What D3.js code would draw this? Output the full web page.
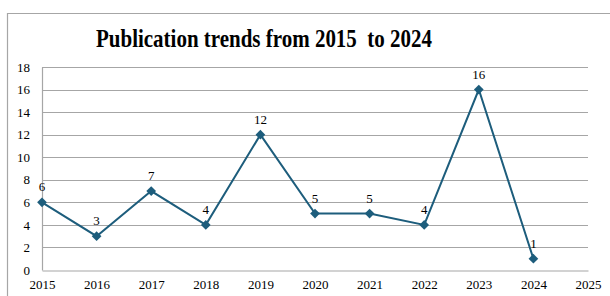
<!DOCTYPE html>
<html>
<head>
<meta charset="utf-8">
<script src="https://cdn.jsdelivr.net/npm/d3@7"></script>
<style>
  html, body { margin: 0; padding: 0; background: #fff; }
  svg { display: block; }
  svg text { font-family: "Liberation Serif", "Times New Roman", Times, serif !important; fill: #000; white-space: pre; }
</style>
</head>
<body>
<svg id="chart" width="610" height="296"></svg>
<script>
const titleText = "Publication trends from 2015  to 2024";
const years = [2015, 2016, 2017, 2018, 2019, 2020, 2021, 2022, 2023, 2024];
const publications = [6, 3, 7, 4, 12, 5, 5, 4, 16, 1];
const xTicks = [2015, 2016, 2017, 2018, 2019, 2020, 2021, 2022, 2023, 2024, 2025];
const yTicks = [0, 2, 4, 6, 8, 10, 12, 14, 16, 18];

const svg = d3.select("#chart");
const color = "#1d5d7c";

// chart frame (extends past right/bottom edges)
svg.append("path")
  .attr("d", "M7.5,300 V13.5 H615")
  .attr("fill", "none")
  .attr("stroke", "#a6a6a6")
  .attr("stroke-width", 1.2);

svg.append("text")
  .attr("x", 264).attr("y", 47)
  .attr("text-anchor", "middle")
  .attr("font-size", 25)
  .attr("font-weight", "bold")
  .attr("xml:space", "preserve")
  .attr("textLength", 336)
  .attr("lengthAdjust", "spacingAndGlyphs")
  .text(titleText);

const x = d3.scaleLinear().domain([2015, 2025]).range([42, 588]);
const y = d3.scaleLinear().domain([0, 18]).range([270, 67]);

// gridlines
svg.append("g")
  .selectAll("line")
  .data(yTicks.filter(d => d > 0))
  .join("line")
  .attr("x1", x(2015)).attr("x2", x(2025))
  .attr("y1", d => Math.round(y(d)) + 0.5).attr("y2", d => Math.round(y(d)) + 0.5)
  .attr("stroke", "#a6a6a6").attr("stroke-width", 1);

// y axis
const yAxis = svg.append("g")
  .attr("transform", `translate(${x(2015)},0)`)
  .call(d3.axisLeft(y).tickValues(yTicks).tickSize(0).tickPadding(12).tickFormat(d3.format("d")));
yAxis.attr("font-family", null);
yAxis.select(".domain").attr("stroke", "#a6a6a6").attr("stroke-width", 1.2);
yAxis.selectAll("text").attr("font-size", 13).attr("fill", "#000");

// x axis
const xAxis = svg.append("g")
  .attr("transform", `translate(0,${Math.round(y(0)) + 0.5})`)
  .call(d3.axisBottom(x).tickValues(xTicks).tickSize(0).tickPadding(9).tickFormat(d3.format("d")));
xAxis.attr("font-family", null);
xAxis.select(".domain").attr("stroke", "#a6a6a6").attr("stroke-width", 1.2);
xAxis.selectAll("text").attr("font-size", 13).attr("fill", "#000");

const data = years.map((yr, i) => ({ yr, v: publications[i] }));

svg.append("path")
  .datum(data)
  .attr("fill", "none")
  .attr("stroke", color)
  .attr("stroke-width", 2)
  .attr("d", d3.line().x(d => x(d.yr)).y(d => y(d.v)));

svg.append("g")
  .selectAll("path")
  .data(data)
  .join("path")
  .attr("transform", d => `translate(${x(d.yr)},${y(d.v)})`)
  .attr("d", d3.symbol().type(d3.symbolDiamond2).size(60))
  .attr("fill", color);

svg.append("g")
  .selectAll("text")
  .data(data)
  .join("text")
  .attr("x", d => x(d.yr))
  .attr("y", d => y(d.v) - 11)
  .attr("text-anchor", "middle")
  .attr("font-size", 13)
  .text(d => d.v);
</script>
</body>
</html>
